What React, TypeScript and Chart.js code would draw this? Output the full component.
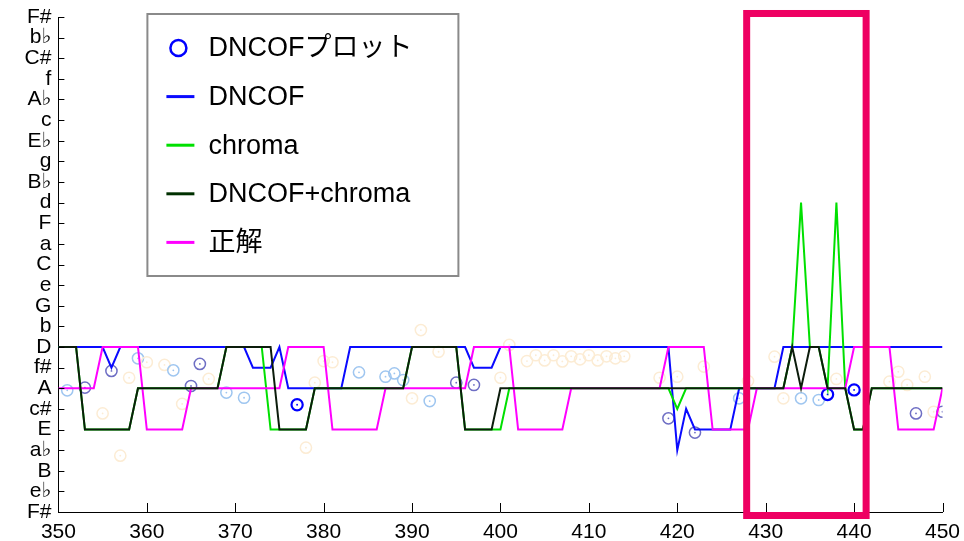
import React, { useEffect, useRef } from 'react';
import { Chart, registerables } from 'chart.js';

Chart.register(...registerables);

// Frame axis
const FRAME_START = 350;
const X_MIN = 350;
const X_MAX = 450;
const X_STEP = 10;

// Key labels on the y axis (index 0 at bottom)
const KEY_LABELS = ['F#', 'e♭', 'B', 'a♭', 'E', 'c#', 'A', 'f#', 'D', 'b', 'G', 'e', 'C', 'a', 'F', 'd', 'B♭', 'g', 'E♭', 'c', 'A♭', 'f', 'C#', 'b♭', 'F#'];

// Series values, one per frame from 350 to 450 (key index)
const DNCOF = [
  8, 8, 8, 8, 8, 8, 7, 8, 8, 8,
  8, 8, 8, 8, 8, 8, 8, 8, 8, 8,
  8, 8, 7, 7, 7, 8, 6, 6, 6, 6,
  6, 6, 6, 8, 8, 8, 8, 8, 8, 8,
  8, 8, 8, 8, 8, 8, 8, 7, 7, 7,
  8, 8, 8, 8, 8, 8, 8, 8, 8, 8,
  8, 8, 8, 8, 8, 8, 8, 8, 8, 8,
  3, 5, 4, 4, 4, 4, 4, 6, 6, 6,
  6, 6, 8, 8, 8, 8, 8, 8, 8, 8,
  8, 8, 8, 8, 8, 8, 8, 8, 8, 8,
  8,
];

const CHROMA = [
  8, 8, 8, 4, 4, 4, 4, 4, 4, 6,
  6, 6, 6, 6, 6, 6, 6, 6, 6, 8,
  8, 8, 8, 8, 4, 4, 4, 4, 4, 6,
  6, 6, 6, 6, 6, 6, 6, 6, 6, 6,
  8, 8, 8, 8, 8, 8, 4, 4, 4, 4,
  4, 6, 6, 6, 6, 6, 6, 6, 6, 6,
  6, 6, 6, 6, 6, 6, 6, 6, 6, 6,
  5, 6, 6, 6, 6, 6, 6, 6, 6, 6,
  6, 6, 6, 8, 15, 8, 8, 6, 15, 6,
  4, 4, 6, 6, 6, 6, 6, 6, 6, 6,
  6,
];

const DNCOF_CHROMA = [
  8, 8, 8, 4, 4, 4, 4, 4, 4, 6,
  6, 6, 6, 6, 6, 6, 6, 6, 6, 8,
  8, 8, 8, 8, 8, 4, 4, 4, 4, 6,
  6, 6, 6, 6, 6, 6, 6, 6, 6, 6,
  8, 8, 8, 8, 8, 8, 4, 4, 4, 4,
  6, 6, 6, 6, 6, 6, 6, 6, 6, 6,
  6, 6, 6, 6, 6, 6, 6, 6, 6, 6,
  6, 6, 6, 6, 6, 6, 6, 6, 6, 6,
  6, 6, 6, 8, 6, 8, 8, 6, 6, 6,
  4, 4, 6, 6, 6, 6, 6, 6, 6, 6,
  6,
];

const ANSWER = [
  6, 6, 6, 6, 6, 8, 8, 8, 8, 8,
  4, 4, 4, 4, 4, 6, 6, 6, 6, 6,
  6, 6, 6, 6, 6, 6, 8, 8, 8, 8,
  8, 4, 4, 4, 4, 4, 4, 6, 6, 6,
  6, 6, 6, 6, 6, 6, 6, 8, 8, 8,
  8, 8, 4, 4, 4, 4, 4, 4, 6, 6,
  6, 6, 6, 6, 6, 6, 6, 6, 6, 8,
  8, 8, 8, 8, 4, 4, 4, 4, 4, 6,
  6, 6, 6, 6, 6, 6, 6, 6, 6, 6,
  8, 8, 8, 8, 8, 4, 4, 4, 4, 4,
  6,
];

// DNCOF plot points: frame, key value, confidence tone (0 strong, 1 medium, 2 light, 3 faint)
const PLOT_X = [351, 353, 355, 356, 357, 358, 359, 360, 362, 363, 364, 365, 366, 367, 369, 371, 377, 378, 379, 380, 381, 384, 387, 388, 389, 390, 391, 392, 393, 395, 397, 400, 401, 403, 404, 405, 406, 407, 408, 409, 410, 411, 412, 413, 414, 418, 419, 420, 422, 423, 427, 428, 431, 432, 434, 436, 437, 438, 440, 444, 445, 446, 447, 448, 449, 450];
const PLOT_Y = [5.9, 6.03, 4.78, 6.84, 2.73, 6.51, 7.45, 7.26, 7.13, 6.87, 5.24, 6.11, 7.18, 6.45, 5.79, 5.54, 5.2, 3.12, 6.27, 7.32, 7.26, 6.77, 6.56, 6.72, 6.4, 5.51, 8.82, 5.38, 7.77, 6.27, 6.16, 6.51, 8.1, 7.32, 7.6, 7.35, 7.6, 7.3, 7.55, 7.4, 7.6, 7.35, 7.55, 7.45, 7.55, 6.51, 4.54, 6.56, 3.85, 7.05, 5.51, 6.35, 7.53, 5.51, 5.51, 5.43, 5.7, 6.45, 5.92, 6.32, 6.8, 6.16, 4.78, 6.56, 4.86, 4.86];
const PLOT_TONE = [2, 1, 3, 1, 3, 3, 2, 3, 3, 2, 3, 1, 1, 3, 2, 2, 0, 3, 3, 3, 3, 2, 2, 2, 2, 3, 3, 2, 3, 1, 1, 3, 3, 3, 3, 3, 3, 3, 3, 3, 3, 3, 3, 3, 3, 3, 1, 3, 1, 3, 2, 3, 3, 3, 2, 2, 0, 3, 0, 3, 3, 3, 1, 3, 3, 1];

// Highlighted frame range (data units)
const HIGHLIGHT_X = [427.85, 441.36];
const HIGHLIGHT_Y = [-0.17, 24.17];

const SERIES_LABELS = ['DNCOFプロット', 'DNCOF', 'chroma', 'DNCOF+chroma', '正解'];

const TONE_COLORS = ['#0000ff', '#6e6ec4', '#9fc6f0', '#fcecd4'];
const TONE_WIDTHS = [2.2, 1.5, 1.5, 1.5];
const BLUE = '#0a0aff';
const GREEN = '#00e000';
const DARK = '#0c1c0c';
const MAGENTA = '#ff00ff';
const HIGHLIGHT_COLOR = '#ee0062';

const TICK_FONT = { family: '"Liberation Sans", Arial, "DejaVu Sans", sans-serif', size: 21 };
const LEGEND_FONT = '27px "Liberation Sans", Arial, "Noto Sans CJK JP", sans-serif';

const toPoints = (arr: number[]) => arr.map((v, i) => ({ x: FRAME_START + i, y: v }));

const overlayPlugin = {
  id: 'overlay',
  afterDraw(chart: any) {
    const { ctx, chartArea } = chart;
    const xs = chart.scales.x;
    const ys = chart.scales.y;
    ctx.save();
    // inward tick marks
    ctx.strokeStyle = '#000';
    ctx.lineWidth = 1;
    ctx.beginPath();
    ys.ticks.forEach((t: any) => {
      const py = Math.round(ys.getPixelForValue(t.value)) + 0.5;
      ctx.moveTo(chartArea.left, py);
      ctx.lineTo(chartArea.left + 6, py);
    });
    xs.ticks.forEach((t: any) => {
      const px = Math.round(xs.getPixelForValue(t.value)) + 0.5;
      ctx.moveTo(px, chartArea.bottom);
      ctx.lineTo(px, chartArea.bottom - 9);
    });
    ctx.stroke();

    // highlight rectangle
    const hx0 = xs.getPixelForValue(HIGHLIGHT_X[0]);
    const hx1 = xs.getPixelForValue(HIGHLIGHT_X[1]);
    const hy0 = ys.getPixelForValue(HIGHLIGHT_Y[1]);
    const hy1 = ys.getPixelForValue(HIGHLIGHT_Y[0]);
    ctx.strokeStyle = HIGHLIGHT_COLOR;
    ctx.lineWidth = 7;
    ctx.strokeRect(hx0, hy0, hx1 - hx0, hy1 - hy0);

    // legend box
    const bx = chartArea.left + 89;
    const by = 14;
    const bw = 311;
    const bh = 262;
    ctx.fillStyle = '#fff';
    ctx.fillRect(bx, by, bw, bh);
    ctx.strokeStyle = '#8a8a8a';
    ctx.lineWidth = 2;
    ctx.strokeRect(bx, by, bw, bh);

    const items = [
      { label: SERIES_LABELS[0], kind: 'circle', color: TONE_COLORS[0] },
      { label: SERIES_LABELS[1], kind: 'line', color: BLUE },
      { label: SERIES_LABELS[2], kind: 'line', color: GREEN },
      { label: SERIES_LABELS[3], kind: 'line', color: '#003000' },
      { label: SERIES_LABELS[4], kind: 'line', color: MAGENTA },
    ];
    ctx.font = LEGEND_FONT;
    ctx.textBaseline = 'middle';
    ctx.textAlign = 'left';
    items.forEach((it, i) => {
      const cy = by + 34 + i * 48.6;
      if (it.kind === 'circle') {
        ctx.strokeStyle = it.color;
        ctx.lineWidth = 2.5;
        ctx.beginPath();
        ctx.arc(bx + 31, cy, 8, 0, Math.PI * 2);
        ctx.stroke();
      } else {
        ctx.strokeStyle = it.color;
        ctx.lineWidth = 3;
        ctx.beginPath();
        ctx.moveTo(bx + 19, cy);
        ctx.lineTo(bx + 47, cy);
        ctx.stroke();
      }
      ctx.fillStyle = '#000';
      ctx.fillText(it.label, bx + 61, cy + 1);
    });
    ctx.restore();
  },
};

export default function App() {
  const ref = useRef<HTMLCanvasElement | null>(null);
  useEffect(() => {
    document.body.style.margin = '0';
    const canvas = ref.current;
    if (!canvas) return;
    const plotPts = PLOT_X.map((x, i) => ({ x, y: PLOT_Y[i] }));
    const chart = new Chart(canvas, {
      type: 'line',
      data: {
        datasets: [
          {
            label: SERIES_LABELS[3],
            data: toPoints(DNCOF_CHROMA),
            borderColor: DARK,
            borderWidth: 2,
            pointRadius: 0,
            tension: 0,
            order: 0,
          },
          {
            label: SERIES_LABELS[4],
            data: toPoints(ANSWER),
            borderColor: MAGENTA,
            borderWidth: 2,
            pointRadius: 0,
            tension: 0,
            order: 1,
          },
          {
            label: SERIES_LABELS[2],
            data: toPoints(CHROMA),
            borderColor: GREEN,
            borderWidth: 2,
            pointRadius: 0,
            tension: 0,
            order: 2,
          },
          {
            label: SERIES_LABELS[1],
            data: toPoints(DNCOF),
            borderColor: BLUE,
            borderWidth: 2,
            pointRadius: 0,
            tension: 0,
            order: 3,
          },
          {
            label: SERIES_LABELS[0] + ' dot',
            data: plotPts,
            showLine: false,
            pointRadius: 0.9,
            pointBorderWidth: 0,
            pointBackgroundColor: PLOT_TONE.map((t) => TONE_COLORS[t]),
            order: 4,
          },
          {
            label: SERIES_LABELS[0],
            data: plotPts,
            showLine: false,
            pointRadius: 5.6,
            pointBorderWidth: PLOT_TONE.map((t) => TONE_WIDTHS[t]),
            pointBorderColor: PLOT_TONE.map((t) => TONE_COLORS[t]),
            pointBackgroundColor: 'rgba(0,0,0,0)',
            order: 5,
          },
        ],
      },
      options: {
        responsive: false,
        animation: false,
        events: [],
        layout: { padding: { top: 17, right: 21.5, left: 0, bottom: 0 } },
        plugins: { legend: { display: false }, tooltip: { enabled: false } },
        scales: {
          x: {
            type: 'linear',
            min: X_MIN,
            max: X_MAX,
            ticks: { stepSize: X_STEP, font: TICK_FONT, color: '#000', padding: 8, maxRotation: 0 },
            grid: { drawOnChartArea: false, drawTicks: false },
            border: { display: true, color: '#000', width: 1 },
            afterFit(s: any) { s.height = 29; s.paddingLeft = 0; s.paddingRight = 0; },
          },
          y: {
            type: 'linear',
            min: 0,
            max: KEY_LABELS.length - 1,
            ticks: {
              stepSize: 1,
              autoSkip: false,
              maxTicksLimit: 40,
              callback: (v: any) => KEY_LABELS[v as number] ?? '',
              font: TICK_FONT,
              color: '#000',
              padding: 7,
            },
            grid: { drawOnChartArea: false, drawTicks: false },
            border: { display: true, color: '#000', width: 1 },
            afterFit(s: any) { s.width = 58.4; s.paddingTop = 0; s.paddingBottom = 0; },
          },
        },
      },
      plugins: [overlayPlugin],
    } as any);
    return () => chart.destroy();
  }, []);
  return (
    <div style={{ width: 964, height: 541, position: 'relative', background: '#fff' }}>
      <canvas ref={ref} width={964} height={541} />
    </div>
  );
}
